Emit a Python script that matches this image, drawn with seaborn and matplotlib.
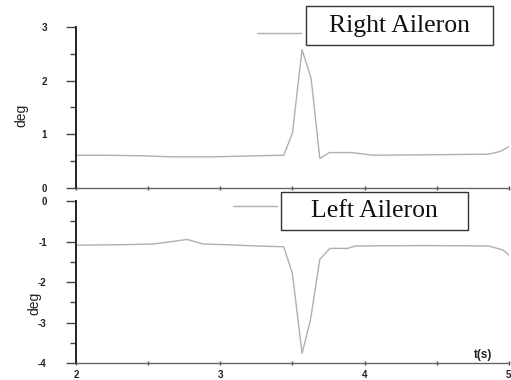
import numpy as np
import pandas as pd
import matplotlib
matplotlib.use("Agg")
import matplotlib.pyplot as plt
import seaborn as sns
from matplotlib.lines import Line2D
from matplotlib.patches import Rectangle

# Right aileron (deg)
t_right = [2.00, 2.21, 2.45, 2.67, 2.95, 3.25, 3.44, 3.50, 3.567, 3.63, 3.69, 3.757, 3.91, 4.06, 4.50, 4.86, 4.94, 5.00]
v_right = [0.61, 0.61, 0.60, 0.58, 0.58, 0.60, 0.61, 1.02, 2.58, 2.04, 0.55, 0.66, 0.66, 0.61, 0.62, 0.63, 0.68, 0.77]
# Left aileron (deg)
t_left = [2.00, 2.30, 2.54, 2.77, 2.88, 3.05, 3.25, 3.44, 3.50, 3.567, 3.625, 3.69, 3.76, 3.88, 3.94, 4.40, 4.86, 4.96, 5.00]
v_left = [-1.09, -1.08, -1.06, -0.95, -1.06, -1.08, -1.11, -1.13, -1.79, -3.76, -2.94, -1.44, -1.17, -1.17, -1.11, -1.10, -1.11, -1.21, -1.33]

labels = ["Right Aileron", "Left Aileron"]
x_ticks = [2, 3, 4, 5]

sns.set_style("ticks")
plt.rcParams['font.family'] = ['Liberation Sans', 'DejaVu Sans']

fig = plt.figure(figsize=(5.11, 3.80), dpi=100)
ax1 = fig.add_axes([0.1487, 0.5053, 0.847, 0.4237])
ax2 = fig.add_axes([0.1487, 0.0447, 0.847, 0.4263])

line_c = "#b0b0b0"
df_r = pd.DataFrame({"t": t_right, "v": v_right})
df_l = pd.DataFrame({"t": t_left, "v": v_left})
sns.lineplot(data=df_r, x="t", y="v", ax=ax1, color=line_c, lw=1.0, estimator=None, sort=False)
sns.lineplot(data=df_l, x="t", y="v", ax=ax2, color=line_c, lw=1.0, estimator=None, sort=False)

for ax in (ax1, ax2):
    ax.set_xlim(2, 5)
    ax.set_xticks(x_ticks)
    ax.set_xticks([2.5, 3.5, 4.5], minor=True)
    for s in ("top", "right"):
        ax.spines[s].set_visible(False)
    ax.spines["left"].set_color("#222222")
    ax.spines["left"].set_linewidth(1.4)
    ax.spines["bottom"].set_color("#666666")
    ax.spines["bottom"].set_linewidth(1.0)
    ax.tick_params(axis="y", which="major", length=7, width=1.0, color="#444444", pad=14,
                   labelsize=7, labelcolor="#222222")
    ax.tick_params(axis="y", which="minor", length=4, width=1.0, color="#444444")
    ax.tick_params(axis="x", which="both", length=2.5, width=1.0, color="#444444", direction="inout",
                   labelsize=7, labelcolor="#222222", pad=4)
    ax.set_xlabel("")

ax1.set_ylim(0, 3)
ax1.set_yticks([0, 1, 2, 3])
ax1.set_yticks([0.5, 1.5, 2.5], minor=True)
ax1.tick_params(axis="x", labelbottom=False)
ax1.set_ylabel("deg", fontsize=10, color="#222222")
ax1.yaxis.set_label_coords(-0.111, 0.453)

ax2.set_ylim(-4, 0)
ax2.set_yticks([0, -1, -2, -3, -4])
ax2.set_yticks([-0.5, -1.5, -2.5, -3.5], minor=True)
ax2.set_yticklabels(["0", "-1", "-2", "-3", "-4"])
ax2.set_ylabel("deg", fontsize=10, color="#222222")
ax2.yaxis.set_label_coords(-0.081, 0.37)
for ax in (ax1, ax2):
    for lab in ax.get_yticklabels() + ax.get_xticklabels():
        lab.set_fontweight("bold")
ax2.text(0.94, 0.05, "t(s)", transform=ax2.transAxes, fontsize=8.5, fontweight="bold",
         color="#222222", ha="center", va="center")

# Legend-like boxes with line samples
def label_box(ax, x0, x1, y0, y1, text, lx0, lx1, ly):
    ax.add_patch(Rectangle((x0, y0), x1 - x0, y1 - y0, transform=ax.transAxes, fc="white",
                           ec="#333333", lw=1.0, clip_on=False, zorder=5))
    ax.text((x0 + x1) / 2, (y0 + y1) / 2, text, transform=ax.transAxes, family=["Liberation Serif"],
            fontsize=18.5, ha="center", va="center", zorder=6, color="#111111")
    ax.add_line(Line2D([lx0, lx1], [ly, ly], transform=ax.transAxes, color=line_c, lw=1.0,
                       clip_on=False))

label_box(ax1, 0.531, 0.963, 0.888, 1.130, labels[0], 0.418, 0.520, 0.963)
label_box(ax2, 0.473, 0.905, 0.821, 1.056, labels[1], 0.363, 0.464, 0.969)

fig.savefig("out.png", dpi=100)
